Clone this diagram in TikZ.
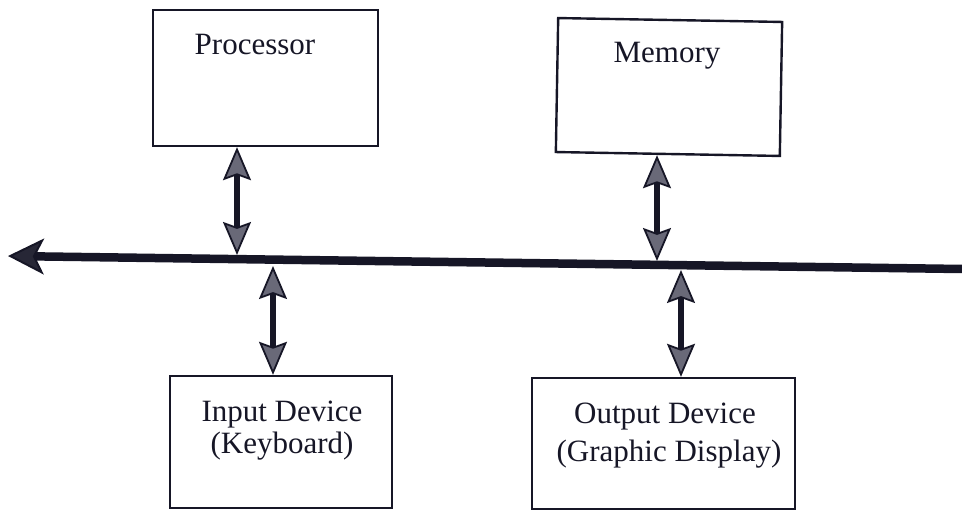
\documentclass[tikz,border=0pt]{standalone}
\usepackage{fontspec}
\setmainfont{Liberation Serif}
\usetikzlibrary{arrows.meta,calc}
\definecolor{ink}{RGB}{22,22,38}
\definecolor{headfill}{RGB}{105,105,120}
\begin{document}
\begin{tikzpicture}[x=1pt,y=-1pt,
  unit/.style={draw=ink,line width=2.4pt,rectangle,inner sep=0pt},
  lbl/.style={anchor=base,font=\fontsize{31}{36}\selectfont,text=ink,inner sep=0pt},
  head/.tip={Stealth[length=33pt,width=28pt,inset=5pt,line width=1.8pt,fill=headfill]},
  bushead/.tip={Stealth[length=36pt,width=36pt,inset=9pt,line width=2pt,fill=ink!80!headfill]},
  link/.style={draw=ink,line width=6pt,arrows={head-head}},
  bus/.style={draw=ink,line width=8.5pt,arrows={-bushead}}]
\useasboundingbox (0,0) rectangle (962,513);

% units
\node[unit,minimum width=225pt,minimum height=136pt] (proc) at (265.5,78) {};
\node[unit,minimum width=224pt,minimum height=134pt,rotate=-1] (mem) at (669,87) {};
\node[unit,minimum width=222pt,minimum height=132pt] (inp) at (281,442) {};
\node[unit,minimum width=263pt,minimum height=131pt] (out) at (663.5,443.5) {};

% labels
\node[lbl] (procT) at (255,55) {Processor};
\node[lbl] (memT) at (667,63) {Memory};
\node[lbl] (inpT1) at (282,421) {Input Device};
\node[lbl] (inpT2) at (282,453) {(Keyboard)};
\node[lbl] (outT1) at (665,423) {Output Device};
\node[lbl] (outT2) at (669,461) {(Graphic Display)};

% system bus
\coordinate (busL) at (8,256);
\coordinate (busR) at (962,269);
\draw[bus] (busR) -- (busL);

% taps on the bus
\coordinate (jP) at (237,255);
\coordinate (jM) at (657,261);
\coordinate (jI) at (273,266);
\coordinate (jO) at (681,270);

\draw[link] (proc.south -| jP) -- (jP);
\draw[link] (mem.south -| jM) -- (jM);
\draw[link] (jI) -- (inp.north -| jI);
\draw[link] (jO) -- (out.north -| jO);
\end{tikzpicture}
\end{document}
